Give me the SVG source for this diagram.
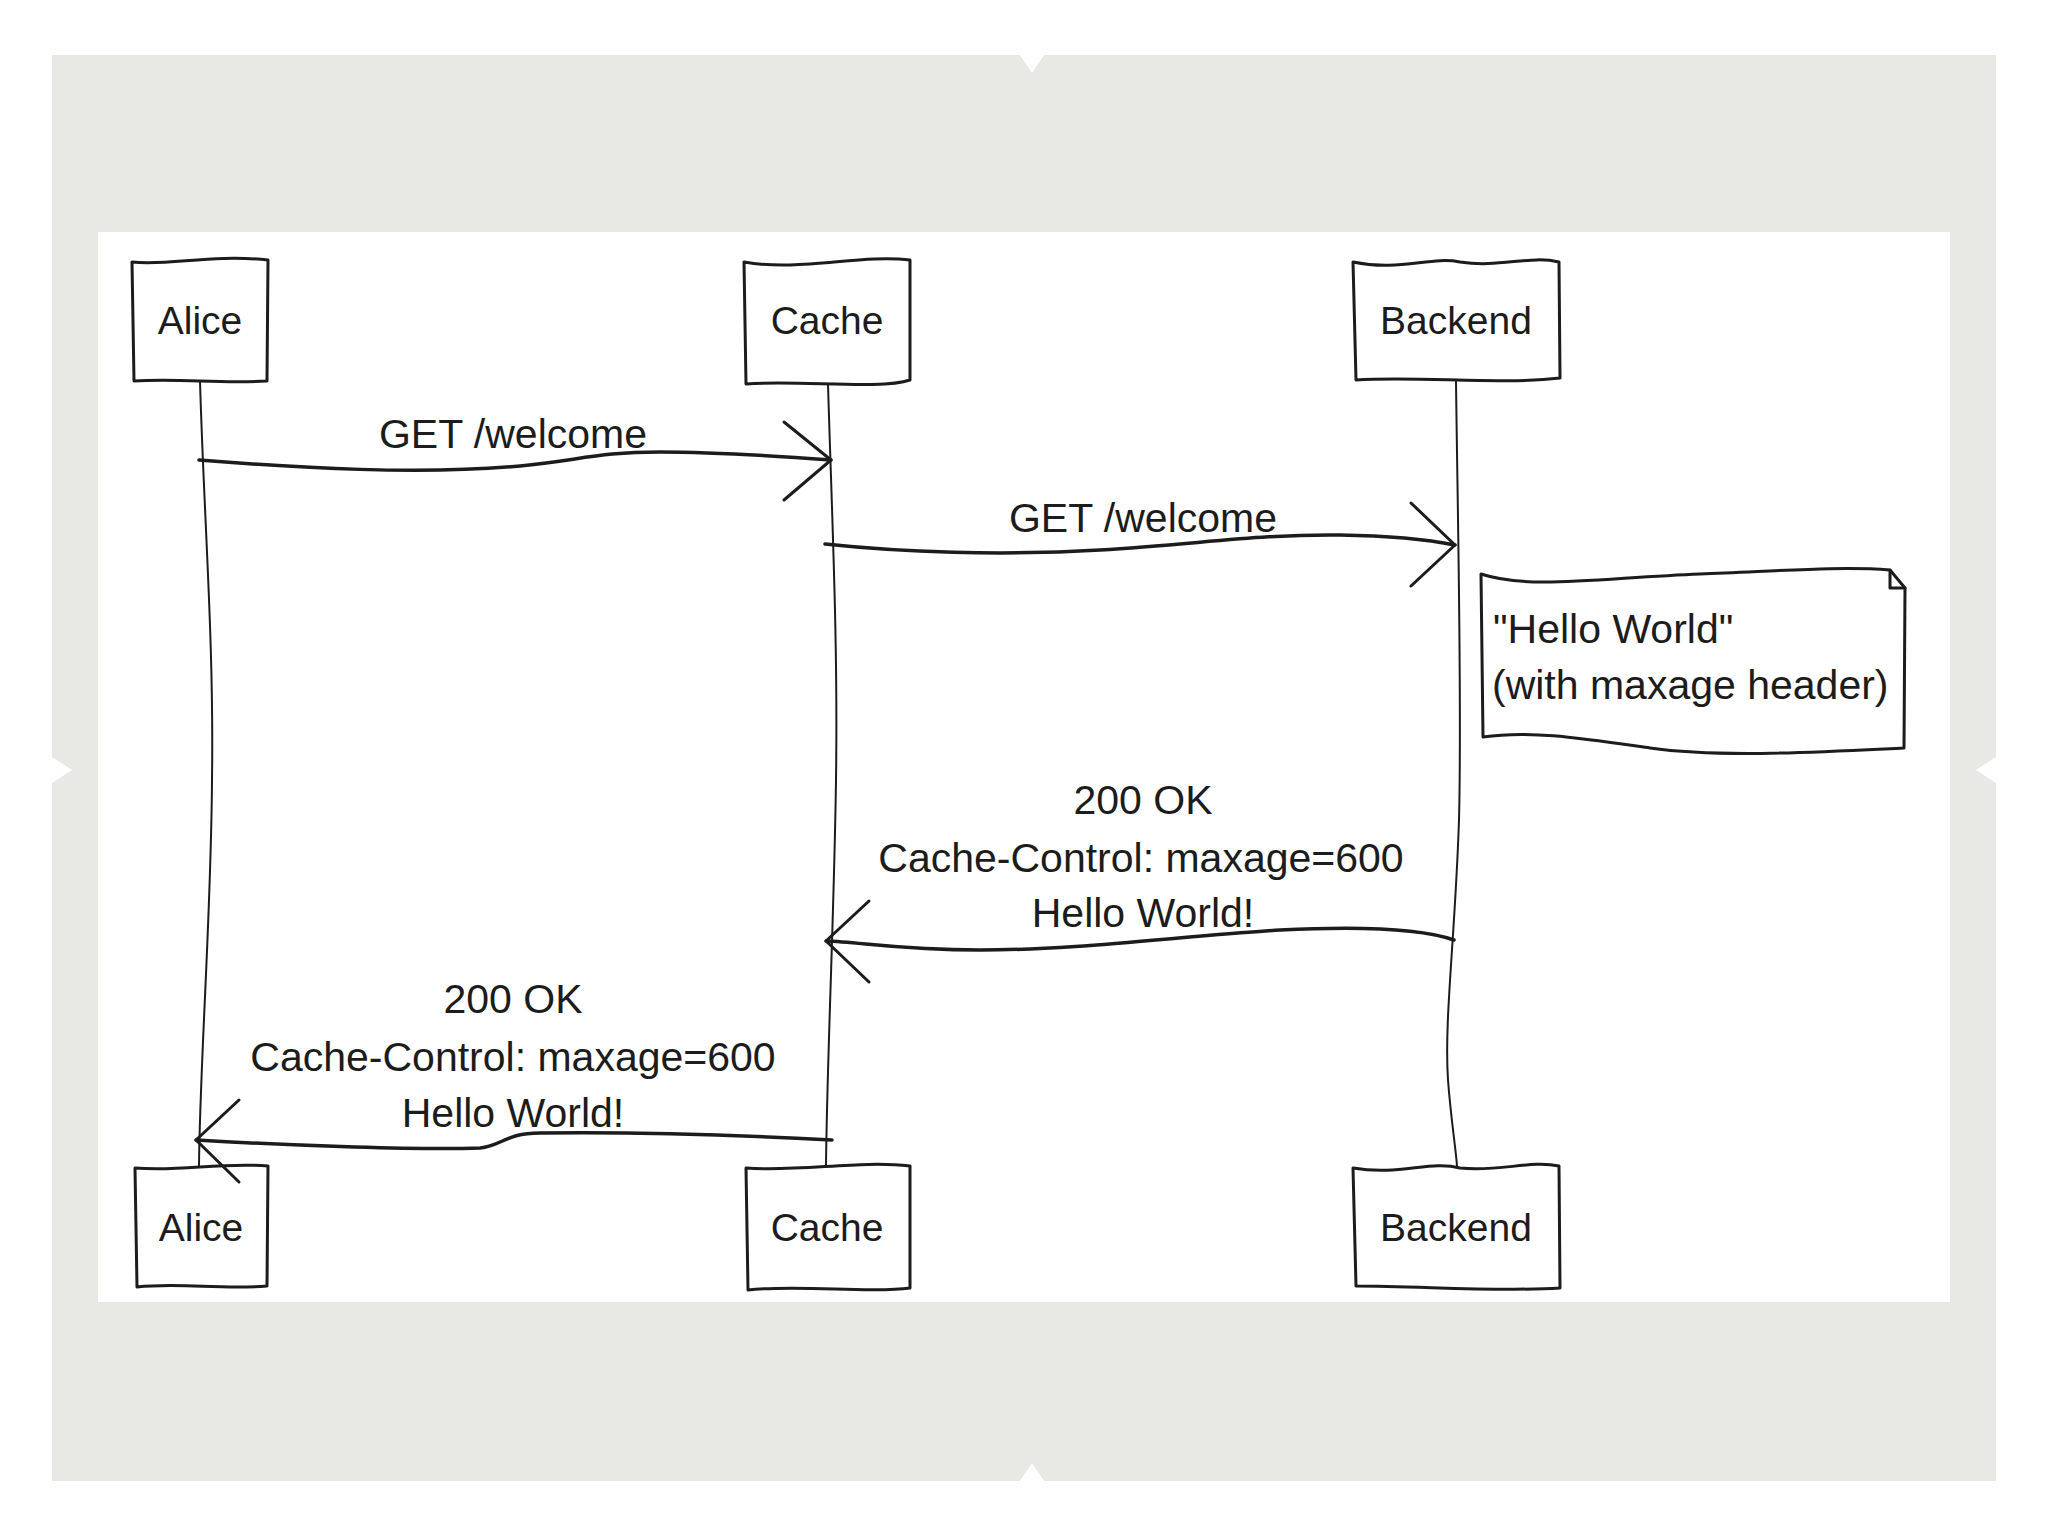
<svg xmlns="http://www.w3.org/2000/svg" width="2048" height="1536" viewBox="0 0 2048 1536">
<style>
.node{fill:#ffffff;stroke:#1c1c1c;stroke-width:3;stroke-linejoin:round;stroke-linecap:round}
.life{fill:none;stroke:#1c1c1c;stroke-width:2}
.msg{fill:none;stroke:#1c1c1c;stroke-width:3.5;stroke-linecap:round;stroke-linejoin:round}
.head{fill:none;stroke:#1c1c1c;stroke-width:3;stroke-linecap:round;stroke-linejoin:round}
text{font-family:"Liberation Sans","DejaVu Sans",sans-serif;fill:#1c1c1c}
.nl{font-size:39px;text-anchor:middle}
.ml{font-size:41px;text-anchor:middle}
.nt{font-size:41px}
</style>
<rect width="2048" height="1536" fill="#ffffff"/>
<path id="frame" d="M52,55 L1020,55 L1032,73 L1044,55 L1996,55 L1996,757 L1976,770 L1996,783 L1996,1481 L1044,1481 L1032,1463 L1020,1481 L52,1481 L52,783 L72,770 L52,757 Z" fill="#e8e8e4"/>
<rect x="98" y="232" width="1852" height="1070" fill="#ffffff"/>

<g id="lifelines">
<path class="life" d="M200,381 C204,520 214,640 212,780 C211,920 200,1060 199,1166"/>
<path class="life" d="M828,384 C832,520 838,640 836,780 C834,920 827,1060 826,1166"/>
<path class="life" d="M1456,381 C1458,540 1462,700 1459,820 C1455,940 1444,1020 1448,1080 C1451,1120 1456,1150 1457,1166"/>
</g>

<g id="alice-top"><path class="node" d="M132,262 C170,266 210,254 268,260 L267,381 C220,384 180,378 134,381 Z"/><text class="nl" x="200" y="334">Alice</text></g>
<g id="cache-top"><path class="node" d="M744,262 C800,272 860,254 910,260 L910,380 C880,390 800,380 746,384 Z"/><text class="nl" x="827" y="334">Cache</text></g>
<g id="backend-top"><path class="node" d="M1353,262 C1400,272 1430,256 1460,262 C1500,268 1530,255 1559,262 L1560,378 C1500,385 1420,376 1356,380 Z"/><text class="nl" x="1456" y="334">Backend</text></g>

<g id="alice-bottom"><path class="node" d="M135,1168 C180,1172 220,1162 268,1166 L267,1286 C220,1290 180,1282 137,1287 Z"/><text class="nl" x="201" y="1241">Alice</text></g>
<g id="cache-bottom"><path class="node" d="M746,1168 C800,1172 860,1160 910,1166 L910,1288 C870,1294 800,1284 748,1290 Z"/><text class="nl" x="827" y="1241">Cache</text></g>
<g id="backend-bottom"><path class="node" d="M1353,1168 C1400,1176 1430,1160 1460,1168 C1500,1172 1530,1160 1559,1166 L1560,1288 C1500,1292 1420,1286 1356,1286 Z"/><text class="nl" x="1456" y="1241">Backend</text></g>

<g id="note"><path class="node" d="M1481,574 C1530,590 1600,578 1700,574 C1780,571 1840,566 1890,570 L1905,588 L1904,748 C1820,752 1720,758 1650,748 C1580,738 1530,730 1483,737 Z"/><path class="head" d="M1890,570 L1890,588 L1905,588"/><text class="nt" x="1493" y="643">"Hello World"</text><text class="nt" x="1492" y="699">(with maxage header)</text></g>

<g id="connectors">
<path class="msg" d="M199,460 C300,468 420,475 520,466 C580,460 600,452 660,452 C720,452 790,457 831,460"/>
<path class="head" d="M784,422 L831,460 L784,500"/>
<path class="msg" d="M825,544 C900,552 1000,556 1100,550 C1200,544 1260,534 1340,535 C1400,536 1430,540 1455,545"/>
<path class="head" d="M1411,503 L1455,545 L1411,586"/>
<path class="msg" d="M1454,940 C1420,928 1360,926 1280,930 C1180,936 1080,950 980,950 C900,950 860,942 826,941"/>
<path class="head" d="M869,901 L826,941 L869,982"/>
<path class="msg" d="M832,1140 C720,1134 620,1132 540,1133 C505,1133 502,1146 480,1148 C420,1150 300,1146 196,1140"/>
<path class="head" d="M239,1100 L196,1140 L239,1182"/>
</g>

<g id="labels">
<text class="ml" x="513" y="448">GET /welcome</text>
<text class="ml" x="1143" y="532">GET /welcome</text>
<text class="ml" x="1143" y="814">200 OK</text>
<text class="ml" x="1141" y="872">Cache-Control: maxage=600</text>
<text class="ml" x="1143" y="927">Hello World!</text>
<text class="ml" x="513" y="1013">200 OK</text>
<text class="ml" x="513" y="1071">Cache-Control: maxage=600</text>
<text class="ml" x="513" y="1127">Hello World!</text>
</g>
</svg>
